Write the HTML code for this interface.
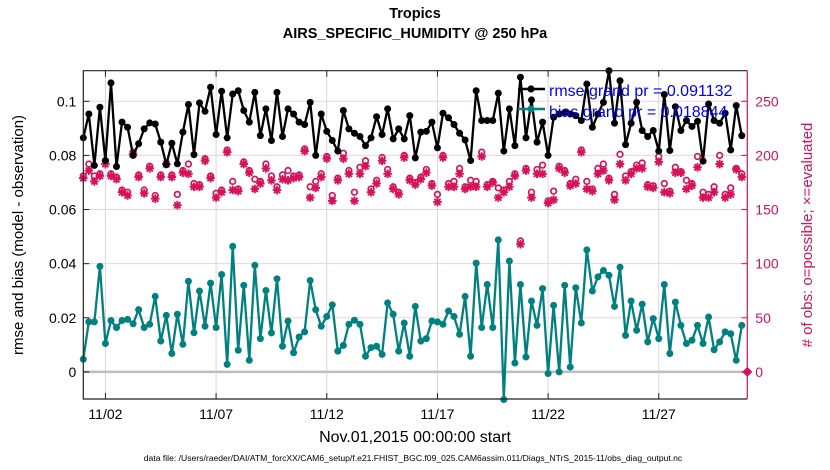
<!DOCTYPE html>
<html><head><meta charset="utf-8">
<style>
html,body{margin:0;padding:0;background:#fff;}
svg{display:block;font-family:"Liberation Sans",sans-serif;}
</style></head>
<body>
<svg id="chart" width="830" height="470" viewBox="0 0 830 470" xmlns="http://www.w3.org/2000/svg">
  <text x="415" y="18" text-anchor="middle" font-size="14.5" font-weight="bold">Tropics</text>
  <text x="415" y="38" text-anchor="middle" font-size="14.5" font-weight="bold">AIRS_SPECIFIC_HUMIDITY @ 250 hPa</text>
  <g id="grid"></g>
  <g id="series"></g>
  <g id="axes"></g>
  <text transform="translate(23,235) rotate(-90)" text-anchor="middle" font-size="15">rmse and bias (model - observation)</text>
  <text transform="translate(812,235) rotate(-90)" text-anchor="middle" font-size="15" fill="#d6125a"># of obs: o=possible; ×=evaluated</text>
  <text x="415" y="442" text-anchor="middle" font-size="16">Nov.01,2015 00:00:00 start</text>
  <text x="413" y="461" text-anchor="middle" font-size="8.6">data file: /Users/raeder/DAI/ATM_forcXX/CAM6_setup/f.e21.FHIST_BGC.f09_025.CAM6assim.011/Diags_NTrS_2015-11/obs_diag_output.nc</text>
  <g id="legend">
    <line x1="518" y1="89" x2="545" y2="89" stroke="#000" stroke-width="2.5"/>
    <circle cx="531" cy="89" r="3.6" fill="#000"/>
    <line x1="518" y1="109" x2="545" y2="109" stroke="#00807f" stroke-width="2.5"/>
    <circle cx="531" cy="109" r="3.6" fill="#00807f"/>
    <text x="549" y="96" font-size="16" fill="#0000ff">rmse grand pr = 0.091132</text>
    <text x="549" y="117" font-size="16" fill="#0000ff">bias grand pr = 0.018844</text>
  </g>
</svg>
<script>
const rmse = [0.0865,0.0953,0.0763,0.0978,0.0781,0.1068,0.0759,0.0923,0.0904,0.08,0.0843,0.0898,0.092,0.0916,0.0849,0.0766,0.0845,0.0769,0.0886,0.0988,0.0803,0.0994,0.0963,0.1052,0.0877,0.1037,0.0865,0.1027,0.1039,0.0966,0.0923,0.1033,0.0873,0.0972,0.0855,0.1033,0.087,0.0972,0.0953,0.0923,0.0914,0.0996,0.08,0.0953,0.0889,0.0855,0.0816,0.0966,0.0898,0.0882,0.087,0.0836,0.0865,0.0943,0.0877,0.0972,0.0861,0.0898,0.0861,0.0947,0.0791,0.0886,0.0889,0.0923,0.0828,0.0956,0.0939,0.0914,0.0882,0.0857,0.0781,0.1039,0.0929,0.0929,0.0929,0.103,0.0816,0.0972,0.0836,0.1089,0.0865,0.1005,0.0849,0.0923,0.08,0.0941,0.0953,0.0959,0.0953,0.0947,0.0929,0.1064,0.0904,0.0953,0.0996,0.1113,0.0919,0.1076,0.084,0.0919,0.0996,0.0892,0.087,0.0892,0.0816,0.1025,0.0818,0.098,0.0892,0.0929,0.0907,0.0926,0.0779,0.099,0.0929,0.0919,0.0956,0.082,0.0984,0.0873];
const bias = [0.0047,0.0185,0.0185,0.039,0.0105,0.019,0.0164,0.019,0.0194,0.0178,0.023,0.0164,0.0176,0.0279,0.0114,0.0209,0.0068,0.0213,0.0102,0.0335,0.0145,0.0299,0.0169,0.0328,0.0164,0.036,0.0028,0.0464,0.008,0.032,0.0043,0.0394,0.0123,0.0301,0.0144,0.0344,0.0095,0.0188,0.0071,0.0129,0.0148,0.0338,0.023,0.0169,0.0205,0.0248,0.0077,0.0098,0.0176,0.0191,0.0176,0.0058,0.009,0.0095,0.0065,0.0255,0.0213,0.0077,0.0181,0.0058,0.0242,0.0114,0.0123,0.0188,0.0185,0.0176,0.0225,0.0205,0.0139,0.0279,0.0058,0.0402,0.0164,0.0323,0.0164,0.0488,-0.0102,0.041,0.0033,0.0323,0.0055,0.0262,0.0172,0.0308,-0.0006,0.0246,0,0.032,0.0018,0.0311,0.0181,0.0451,0.0299,0.0351,0.0375,0.0357,0.0242,0.0387,0.0135,0.0262,0.0154,0.025,0.0111,0.0197,0.0123,0.0323,0.0068,0.0258,0.0172,0.0105,0.0117,0.0172,0.0105,0.0203,0.0082,0.0111,0.0148,0.0141,0.0043,0.0172];
const evaluated = [179,186,176,181,192,181,178,166,163,201,180,165,188,160,180,192,180,154,184,183,171,171,195,179,161,166,203,168,167,192,184,169,174,188,177,168,178,177,179,180,204,161,170,180,197,158,177,197,183,158,183,190,166,174,195,183,169,164,198,177,173,178,184,172,157,198,171,171,183,169,171,171,199,171,175,161,166,171,181,118,186,161,183,183,156,159,188,184,172,174,203,169,167,183,186,177,159,192,177,183,188,188,171,170,194,166,165,184,184,169,172,189,161,161,166,192,161,164,187,180];
const possible = [181,192,181,183,195,183,180,168,166,203,182,168,190,163,182,192,182,164,186,192,174,173,197,181,165,168,205,176,169,194,186,178,176,192,181,171,182,186,181,182,206,171,176,183,199,163,179,202,186,166,189,195,169,177,198,187,171,166,200,179,175,180,187,174,164,200,174,176,188,171,177,176,203,173,176,170,168,176,183,121,188,166,187,191,158,167,190,186,174,178,205,176,169,188,192,179,164,201,181,185,191,193,173,172,199,174,167,189,185,177,174,199,166,164,171,200,164,170,188,183];
const xTickLabels = ["11/02","11/07","11/12","11/17","11/22","11/27"];
const xTickDays = [1,6,11,16,21,26];
const yTickLabels = ["0","0.02","0.04","0.06","0.08","0.1"];
const yTickValues = [0,0.02,0.04,0.06,0.08,0.1];
const y2TickLabels = ["0","50","100","150","200","250"];
const y2TickValues = [0,50,100,150,200,250];

const L=83.3,R=747.3,T=70.7,B=399;
const X0=0,X1=30;
const Y0=-0.01,Y1=0.1113;
function xs(d){return L+(d-X0)/(X1-X0)*(R-L);}
function ys(v){return B-(v-Y0)/(Y1-Y0)*(B-T);}
function ys2(c){return ys(c/2500);}
const NS="http://www.w3.org/2000/svg";
function mk(tag,attrs,parent){const e=document.createElementNS(NS,tag);for(const k in attrs)e.setAttribute(k,attrs[k]);parent.appendChild(e);return e;}
const grid=document.getElementById('grid'),series=document.getElementById('series'),axes=document.getElementById('axes');
const MAG="#d6125a";

y2TickValues.forEach((v,i)=>{
  const g=mk('line',{x1:L,x2:R,y1:ys2(v),y2:ys2(v),stroke:"#f3cfe0","stroke-width":1},grid);
  
  
});
xTickDays.forEach((d,i)=>{
  const g=mk('line',{x1:xs(d),x2:xs(d),y1:T,y2:B,stroke:"#d8d8d8","stroke-width":1},grid);
  
  
});
const zl=mk('line',{x1:L,x2:R,y1:ys(0),y2:ys(0),stroke:"#bdbdbd","stroke-width":2.5},grid);



possible.forEach((c,i)=>{
  const m=mk('circle',{cx:xs(i/4),cy:ys2(c),r:2.8,fill:"#fff",stroke:MAG,"stroke-width":1.7},series);
  
  
});
evaluated.forEach((c,i)=>{
  const x=xs(i/4),y=ys2(c),r=4.3,d=3.1;
  const path=`M${x-r} ${y}H${x+r}M${x} ${y-r}V${y+r}M${x-d} ${y-d}L${x+d} ${y+d}M${x-d} ${y+d}L${x+d} ${y-d}`;
  const m=mk('path',{d:path,stroke:MAG,"stroke-width":1.9,fill:"none"},series);
  
  
});
const endm=mk('path',{d:`M${R-5} ${ys2(0)} L${R} ${ys2(0)-5} L${R+5} ${ys2(0)} L${R} ${ys2(0)+5}Z`,fill:MAG},series);



function drawLine(arr,color,name){
  const pts=arr.map((v,i)=>xs(i/4).toFixed(1)+","+ys(v).toFixed(1)).join(" ");
  const p=mk('polyline',{points:pts,fill:"none",stroke:color,"stroke-width":2.3,"stroke-linejoin":"round"},series);
  
  
  arr.forEach((v,i)=>{
    const c=mk('circle',{cx:xs(i/4),cy:ys(v),r:3.5,fill:color},series);
    
    
  });
}
drawLine(bias,"#00807f","bias");
drawLine(rmse,"#000000","rmse");

const bx=mk('path',{d:`M${R} ${T} L${L} ${T} L${L} ${B} L${R} ${B}`,fill:"none",stroke:"#222","stroke-width":1.2},axes);


const ra=mk('line',{x1:R,x2:R,y1:T,y2:B,stroke:MAG,"stroke-width":1.2},axes);


yTickValues.forEach((v,i)=>{
  const y=ys(v);
  const t=mk('line',{x1:L,x2:L+6,y1:y,y2:y,stroke:"#222"},axes);
  
  
  const lb=mk('text',{x:L-7,y:y+5,"text-anchor":"end","font-size":14},axes);
  lb.textContent=yTickLabels[i];
  
  
});
y2TickValues.forEach((v,i)=>{
  const y=ys2(v);
  const t=mk('line',{x1:R-6,x2:R,y1:y,y2:y,stroke:MAG},axes);
  
  
  const lb=mk('text',{x:R+8,y:y+5,"text-anchor":"start","font-size":14,fill:MAG},axes);
  lb.textContent=y2TickLabels[i];
  
  
});
xTickDays.forEach((d,i)=>{
  const x=xs(d);
  const t=mk('line',{x1:x,x2:x,y1:B,y2:B-6,stroke:"#222"},axes);
  
  
  const t2=mk('line',{x1:x,x2:x,y1:T,y2:T+6,stroke:"#222"},axes);
  
  
  const lb=mk('text',{x:x,y:B+20,"text-anchor":"middle","font-size":14},axes);
  lb.textContent=xTickLabels[i];
  
  
});
</script>
</body></html>
